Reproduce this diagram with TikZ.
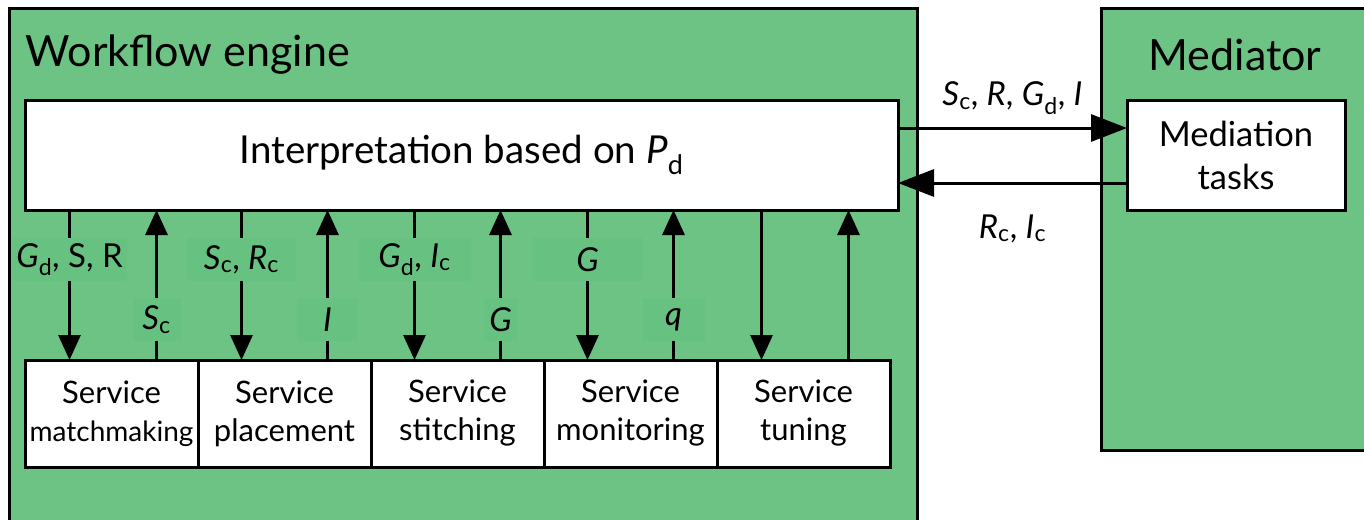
\documentclass[tikz,border=0pt]{standalone}
\usepackage{fontspec}
\setmainfont{Lato}
\usetikzlibrary{arrows.meta, positioning}
\definecolor{panelgreen}{HTML}{6CC384}
\definecolor{labelgreen}{HTML}{67C180}
\newcommand{\vsub}[2]{\textit{#1}\textsubscript{#2}}

\begin{document}
\begin{tikzpicture}[x=1pt, y=-1pt, >={Triangle[width=22pt,length=25pt]}, line width=3pt,
  panel/.style={draw, fill=panelgreen, anchor=north west, outer sep=0pt},
  box/.style={draw, fill=white, align=center, outer sep=0pt, inner sep=0pt},
  svc/.style={box, minimum width=173pt, minimum height=107pt, font=\fontsize{31}{38}\selectfont},
  title/.style={font=\fontsize{43}{48}\selectfont, inner sep=0pt},
  lbl/.style={fill=labelgreen, font=\fontsize{33}{38}\selectfont, inner sep=0pt, minimum height=43pt},
  msg/.style={font=\fontsize{33}{38}\selectfont, inner sep=0pt},
  big/.style={-{Triangle[width=27pt,length=36pt]}}]

\clip (0,0) rectangle (1364,519);

% Panels
\node[panel, minimum width=908pt, minimum height=530pt] (engine) at (9,9) {};
\node[panel, minimum width=270pt, minimum height=441pt] (mediator) at (1101,9) {};
\node[title, anchor=west] (enginetitle) at (24,55) {Workflow engine};
\node[title] (mediatortitle) at (1235,55) {Mediator};

% Nodes
\node[box, minimum width=873pt, minimum height=110pt, font=\fontsize{38.5}{44}\selectfont] (interp) at (461.5,155) {Interpretation based on \vsub{P}{d}};
\node[box, minimum width=218pt, minimum height=110pt, font=\fontsize{34.5}{43}\selectfont] (tasks) at (1236,155) {Mediation\\tasks};

\node[svc] (match) at (111.5,413.5) {Service\\{\fontsize{28}{38}\selectfont matchmaking}};
\node[svc, right=0pt of match] (place) {Service\\placement};
\node[svc, right=0pt of place] (stitch) {Service\\stitching};
\node[svc, right=0pt of stitch] (monitor) {Service\\monitoring};
\node[svc, right=0pt of monitor] (tune) {Service\\tuning};

% Edges
\draw[->] ([xshift=-42pt]match.north |- interp.south) -- node[lbl, pos=0.33, minimum width=115pt] {\vsub{G}{d}, S, R} ([xshift=-42pt]match.north);
\draw[->] ([xshift=45pt]match.north) -- node[lbl, pos=0.27, minimum width=48pt] {\vsub{S}{c}} ([xshift=45pt]match.north |- interp.south);
\draw[->] ([xshift=-43pt]place.north |- interp.south) -- node[lbl, pos=0.33, minimum width=109pt] {\vsub{S}{c}, \vsub{R}{c}} ([xshift=-43pt]place.north);
\draw[->] ([xshift=43pt]place.north) -- node[lbl, pos=0.27, minimum width=61pt] {\textit{I}} ([xshift=43pt]place.north |- interp.south);
\draw[->] ([xshift=-43pt]stitch.north |- interp.south) -- node[lbl, pos=0.33, minimum width=112pt] {\vsub{G}{d}, \vsub{I}{c}} ([xshift=-43pt]stitch.north);
\draw[->] ([xshift=43pt]stitch.north) -- node[lbl, pos=0.27, minimum width=34pt] {\textit{G}} ([xshift=43pt]stitch.north |- interp.south);
\draw[->] ([xshift=-43pt]monitor.north |- interp.south) -- node[lbl, pos=0.33, minimum width=111pt] {\textit{G}} ([xshift=-43pt]monitor.north);
\draw[->] ([xshift=43pt]monitor.north) -- node[lbl, pos=0.27, minimum width=62pt] {\textit{q}} ([xshift=43pt]monitor.north |- interp.south);
\draw[->] ([xshift=-42pt]tune.north |- interp.south) -- ([xshift=-42pt]tune.north);
\draw[->] ([xshift=45pt]tune.north) -- ([xshift=45pt]tune.north |- interp.south);

\draw[big] ([yshift=27pt]interp.east) -- node[msg, above=12pt] {\vsub{S}{c}, \textit{R}, \vsub{G}{d}, \textit{I}} ([yshift=27pt]tasks.west);
\draw[big] ([yshift=-28pt]tasks.west) -- node[msg, below=30pt] {\vsub{R}{c}, \vsub{I}{c}} ([yshift=-28pt]interp.east);

\end{tikzpicture}
\end{document}
